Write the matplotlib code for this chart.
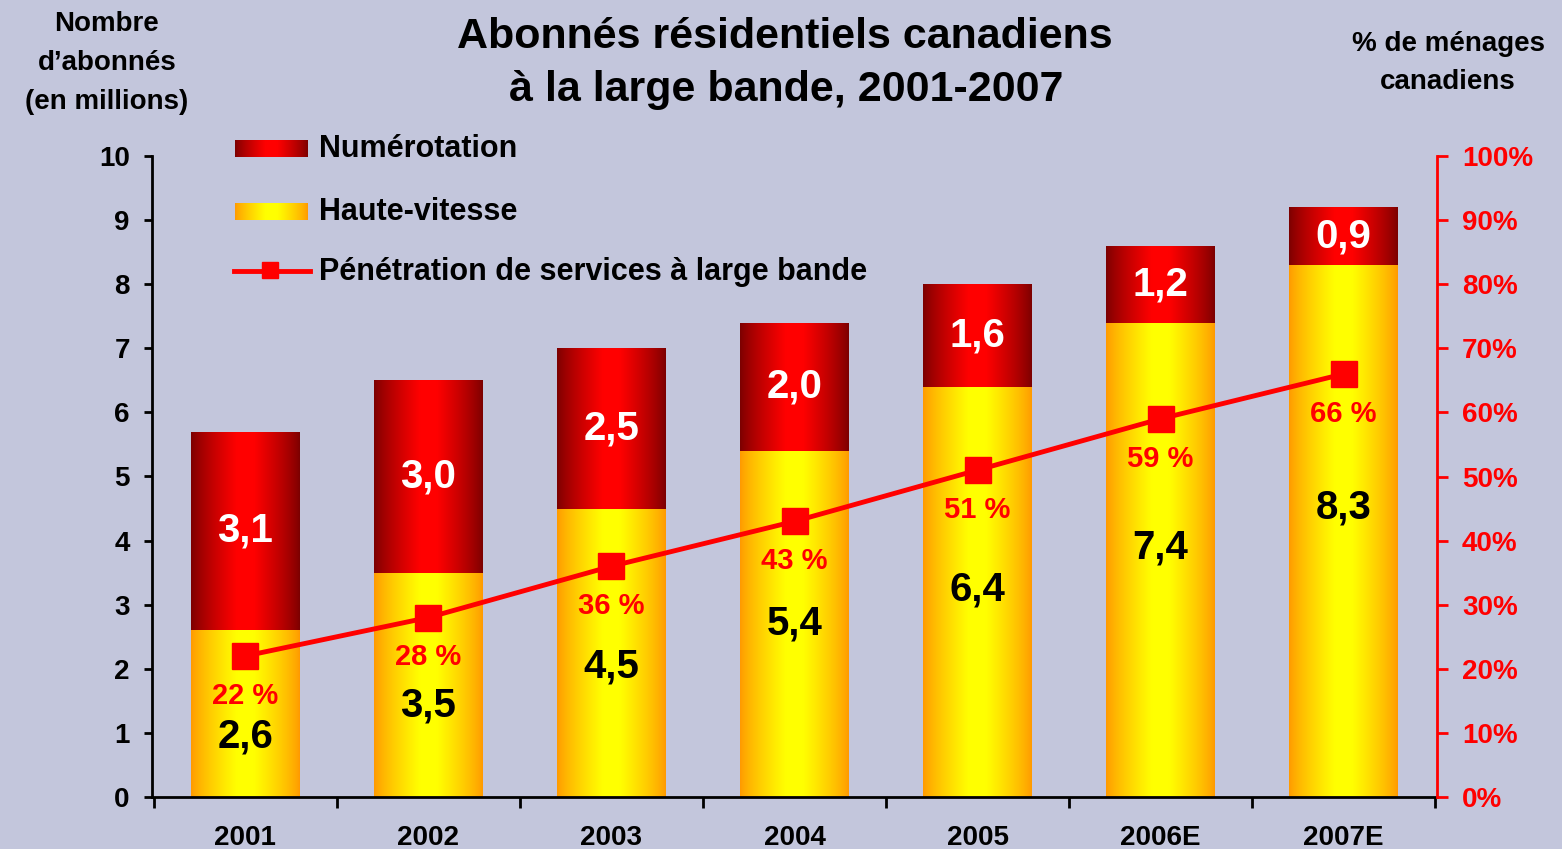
import numpy as np
import matplotlib
matplotlib.use("Agg")
import matplotlib.pyplot as plt
from matplotlib.ticker import FixedLocator, FuncFormatter

# ---------------- data ----------------
years = ["2001", "2002", "2003", "2004", "2005", "2006E", "2007E"]
haute_vitesse = [2.6, 3.5, 4.5, 5.4, 6.4, 7.4, 8.3]
numerotation = [3.1, 3.0, 2.5, 2.0, 1.6, 1.2, 0.9]
penetration = [22, 28, 36, 43, 51, 59, 66]
left_ticks = [0, 1, 2, 3, 4, 5, 6, 7, 8, 9, 10]
right_ticks = [0, 10, 20, 30, 40, 50, 60, 70, 80, 90, 100]

# label placement for the haute-vitesse values (layout, in left-axis units)
hv_label_pos = [0.94, 1.43, 2.04, 2.71, 3.23, 3.9, 4.52]

BG = "#C3C6DC"
FONT = "Liberation Sans"
plt.rcParams["font.family"] = [FONT, "DejaVu Sans"]
plt.rcParams["font.weight"] = "bold"


def hgrad(edge, center, n=256, power=0.8):
    edge = np.array(matplotlib.colors.to_rgb(edge))
    center = np.array(matplotlib.colors.to_rgb(center))
    t = np.linspace(0, 1, n)
    w = (1 - np.abs(2 * t - 1)) ** power
    w = np.clip(w * 1.15, 0, 1)
    img = edge[None, :] + (center - edge)[None, :] * w[:, None]
    return img[None, :, :]


yellow_img = hgrad("#FF9900", "#FFFF00")
red_img = hgrad("#7A0000", "#FF0000")

W, H = 1562, 849
fig = plt.figure(figsize=(15.62, 8.49), dpi=100, facecolor=BG)
ax = fig.add_axes([152 / W, 1 - 797 / H, (1437 - 152) / W, (797 - 156) / H])
ax.set_facecolor(BG)

x = np.arange(len(years))
width = 0.595
b1 = ax.bar(x, haute_vitesse, width, color="none", edgecolor="none", zorder=2)
b2 = ax.bar(x, numerotation, width, bottom=haute_vitesse, color="none", edgecolor="none", zorder=2)

for bars, img in ((b1, yellow_img), (b2, red_img)):
    for p in bars:
        x0, y0 = p.get_x(), p.get_y()
        x1, y1 = x0 + p.get_width(), y0 + p.get_height()
        im = ax.imshow(img, extent=[x0, x1, y0, y1], aspect="auto", zorder=2,
                       interpolation="bilinear")
        im.set_clip_path(p)

ax.set_xlim(-0.51, len(years) - 0.49)
ax.set_ylim(0, 10)

# labels in bars
for i in range(len(years)):
    ax.text(x[i], haute_vitesse[i] + numerotation[i] / 2,
            f"{numerotation[i]:.1f}".replace(".", ","),
            ha="center", va="center", color="white", fontsize=29, fontweight="bold", zorder=5)
    ax.text(x[i], hv_label_pos[i], f"{haute_vitesse[i]:.1f}".replace(".", ","),
            ha="center", va="center", color="black", fontsize=29, fontweight="bold", zorder=5)

# spines / ticks left
for s in ("top", "right"):
    ax.spines[s].set_visible(False)
ax.spines["left"].set_linewidth(2)
ax.spines["bottom"].set_linewidth(2)
ax.yaxis.set_major_locator(FixedLocator(left_ticks))
ax.tick_params(axis="y", length=6, width=2, pad=10, labelsize=20)
ax.set_xticks(x)
ax.set_xticklabels(years, fontsize=20, fontweight="bold")
ax.set_xticks(np.arange(-0.5, len(years), 1.0), minor=True)
ax.tick_params(axis="x", which="major", length=0, pad=20)
ax.tick_params(axis="x", which="minor", length=8, width=2)
for lab in ax.get_yticklabels():
    lab.set_fontweight("bold")

# right axis
ax2 = ax.twinx()
ax2.set_ylim(0, 100)
ax2.set_xlim(ax.get_xlim())
for s in ("top", "left", "bottom"):
    ax2.spines[s].set_visible(False)
ax2.spines["right"].set_color("#FF0000")
ax2.spines["right"].set_linewidth(2)
ax2.yaxis.set_major_locator(FixedLocator(right_ticks))
ax2.yaxis.set_major_formatter(FuncFormatter(lambda v, p: f"{int(v)}%"))
ax2.tick_params(axis="y", colors="#FF0000", length=8, width=2, pad=10, labelsize=20)
for lab in ax2.get_yticklabels():
    lab.set_fontweight("bold")
    lab.set_color("#FF0000")

ax2.plot(x, penetration, color="#FF0000", lw=3.5, marker="s", markersize=19,
         markerfacecolor="#FF0000", markeredgecolor="#FF0000", zorder=6)
for i in range(len(years)):
    ax2.text(x[i], penetration[i] - 6.2, f"{penetration[i]} %", ha="center", va="center",
             color="#FF0000", fontsize=21, fontweight="bold", zorder=6)

# titles
fig.text(785 / W, 1 - 37 / H, "Abonnés résidentiels canadiens", ha="center", va="center",
         fontsize=31, fontweight="bold")
fig.text(786 / W, 1 - 90 / H, "à la large bande, 2001-2007", ha="center", va="center",
         fontsize=31, fontweight="bold")
for txt, yy in (("Nombre", 24), ("d’abonnés", 63), ("(en millions)", 102)):
    fig.text(107 / W, 1 - yy / H, txt, ha="center", va="center", fontsize=20, fontweight="bold")
for txt, yy in (("% de ménages", 44), ("canadiens", 82)):
    fig.text(1448 / W, 1 - yy / H, txt, ha="center", va="center", fontsize=20, fontweight="bold")

# manual legend
def swatch(img, y_top, y_bot):
    sa = fig.add_axes([235 / W, 1 - y_bot / H, (308 - 235) / W, (y_bot - y_top) / H])
    sa.imshow(img, aspect="auto", extent=[0, 1, 0, 1], interpolation="bilinear")
    sa.set_axis_off()

swatch(red_img, 140, 157)
swatch(yellow_img, 203, 220)
fig.text(319 / W, 1 - 149 / H, "Numérotation", ha="left", va="center", fontsize=22, fontweight="bold")
fig.text(319 / W, 1 - 212 / H, "Haute-vitesse", ha="left", va="center", fontsize=22, fontweight="bold")
fig.lines.append(matplotlib.lines.Line2D([234 / W, 310 / W], [1 - 271 / H, 1 - 271 / H],
                                         transform=fig.transFigure, color="#FF0000", lw=3.5))
fig.lines.append(matplotlib.lines.Line2D([270 / W], [1 - 270 / H], transform=fig.transFigure,
                                         color="#FF0000", marker="s", markersize=11, lw=0))
fig.text(319 / W, 1 - 272 / H, "Pénétration de services à large bande", ha="left", va="center",
         fontsize=22, fontweight="bold")

fig.savefig("out.png", dpi=100, facecolor=BG)
